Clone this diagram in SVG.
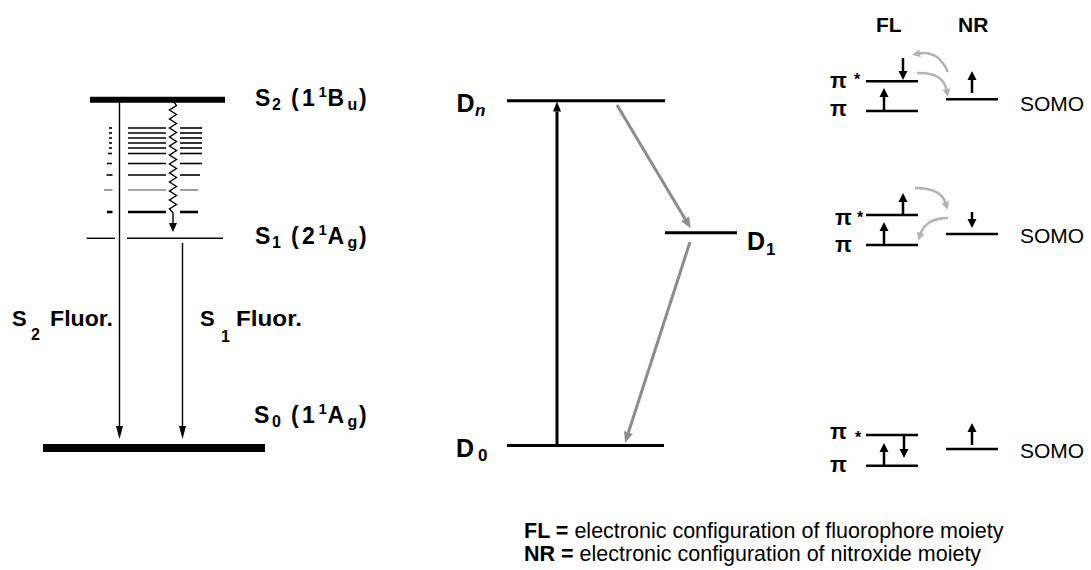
<svg xmlns="http://www.w3.org/2000/svg" width="1091" height="570" viewBox="0 0 1091 570">
<style>
text{font-family:"Liberation Sans",Arial,Helvetica,sans-serif;fill:#000}
.b{font-weight:bold}
.lab{font-size:23px;font-weight:bold}
.sm{font-size:16px}
.dl{font-size:25px;font-weight:bold}
.pi{font-size:22px;font-weight:bold}
.ast{font-size:16px;font-weight:bold}
.somo{font-size:21px}
.leg{font-size:21.5px}
.lvl{stroke:#000;stroke-width:2.5}
.dlv{stroke:#000;stroke-width:3}
.vib{stroke:#000;stroke-width:1.6}
.fl{stroke:#000;stroke-width:1.4;fill:none}
.abs{stroke:#000;stroke-width:3}
.ic{stroke:#8c8c8c;stroke-width:3}
.cv{stroke:#b3b3b3;stroke-width:2.5;fill:none}
.spin{stroke:#000;stroke-width:2.5}
</style>
<defs>
<marker id="hThin" markerUnits="userSpaceOnUse" markerWidth="14" markerHeight="8" refX="0" refY="0" orient="auto" overflow="visible"><path d="M0,-3.5 L13,0 L0,3.5 z" fill="#000"/></marker>
<marker id="hAbs" markerUnits="userSpaceOnUse" markerWidth="10" markerHeight="8" refX="0" refY="0" orient="auto" overflow="visible"><path d="M0,-4 L10,0 L0,4 z" fill="#000"/></marker>
<marker id="hGray" markerUnits="userSpaceOnUse" markerWidth="11" markerHeight="9" refX="0" refY="0" orient="auto" overflow="visible"><path d="M0,-4.5 L11,0 L0,4.5 z" fill="#8c8c8c"/></marker>
<marker id="hCurve" markerUnits="userSpaceOnUse" markerWidth="8" markerHeight="8" refX="0" refY="0" orient="auto" overflow="visible"><path d="M-1,-4 L7,0 L-1,4 z" fill="#b3b3b3"/></marker>
<marker id="hSpin" markerUnits="userSpaceOnUse" markerWidth="9" markerHeight="9" refX="0" refY="0" orient="auto" overflow="visible"><path d="M0,-4.5 L9,0 L0,4.5 z" fill="#000"/></marker>
<marker id="hWavy" markerUnits="userSpaceOnUse" markerWidth="9" markerHeight="8" refX="0" refY="0" orient="auto" overflow="visible"><path d="M0,-4 L9,0 L0,4 z" fill="#000"/></marker>
</defs>
<rect width="1091" height="570" fill="#fff"/>

<!-- Left: singlet states -->
<g id="S2">
<line x1="90" y1="99.7" x2="225" y2="99.7" stroke="#000" stroke-width="6"/>
<text class="lab" y="106"><tspan x="255">S</tspan><tspan class="sm" x="272" dy="4">2</tspan><tspan x="291" dy="-4">(</tspan><tspan x="302">1</tspan><tspan x="318.5" dy="-9" font-size="15">1</tspan><tspan x="327.5" dy="9">B</tspan><tspan class="sm" x="347.5" dy="4">u</tspan><tspan x="359" dy="-4">)</tspan></text>
</g>
<g id="S1">
<line x1="86.7" y1="238.3" x2="115" y2="238.3" stroke="#000" stroke-width="1.4"/>
<line x1="127" y1="238.3" x2="223" y2="238.3" stroke="#000" stroke-width="1.4"/>
<text class="lab" y="243.5"><tspan x="255">S</tspan><tspan class="sm" x="272" dy="4">1</tspan><tspan x="291" dy="-4">(</tspan><tspan x="302">2</tspan><tspan x="318.5" dy="-9" font-size="15">1</tspan><tspan x="327.5" dy="9">A</tspan><tspan class="sm" x="347.5" dy="4">g</tspan><tspan x="359" dy="-4">)</tspan></text>
</g>
<g id="S0">
<line x1="43" y1="448" x2="265" y2="448" stroke="#000" stroke-width="8"/>
<text class="lab" y="423"><tspan x="254">S</tspan><tspan class="sm" x="272" dy="4">0</tspan><tspan x="291" dy="-4">(</tspan><tspan x="302">1</tspan><tspan x="318.5" dy="-9" font-size="15">1</tspan><tspan x="327.5" dy="9">A</tspan><tspan class="sm" x="347.5" dy="4">g</tspan><tspan x="359" dy="-4">)</tspan></text>
</g>
<g id="vibrational-levels">
<g class="vib">
<line x1="109" y1="128" x2="112" y2="128"/><line x1="128" y1="128" x2="166" y2="128"/><line x1="180" y1="128" x2="202" y2="128"/>
<line x1="109" y1="133" x2="112" y2="133"/><line x1="128" y1="133" x2="166" y2="133"/><line x1="180" y1="133" x2="202" y2="133"/>
<line x1="109" y1="138" x2="112" y2="138"/><line x1="128" y1="138" x2="166" y2="138"/><line x1="180" y1="138" x2="202" y2="138"/>
<line x1="109" y1="143" x2="112" y2="143"/><line x1="128" y1="143" x2="166" y2="143"/><line x1="180" y1="143" x2="202" y2="143"/>
<line x1="109" y1="148" x2="112" y2="148"/><line x1="128" y1="148" x2="166" y2="148"/><line x1="180" y1="148" x2="202" y2="148"/>
<line x1="108" y1="153.5" x2="112" y2="153.5"/><line x1="128" y1="153.5" x2="166" y2="153.5"/><line x1="180" y1="153.5" x2="202" y2="153.5"/>
<line x1="107" y1="163.5" x2="112" y2="163.5"/><line x1="128" y1="163.5" x2="166" y2="163.5"/><line x1="180" y1="163.5" x2="202" y2="163.5"/>
<line x1="106.5" y1="175" x2="112.5" y2="175"/><line x1="128" y1="175" x2="166" y2="175"/><line x1="180" y1="175" x2="200" y2="175"/>
</g>
<g stroke="#888" stroke-width="1.6">
<line x1="104" y1="190" x2="112.5" y2="190"/><line x1="128" y1="190" x2="166" y2="190"/><line x1="180" y1="190" x2="198" y2="190"/>
</g>
<g stroke="#000" stroke-width="2.6">
<line x1="107" y1="212" x2="112.5" y2="212"/><line x1="128" y1="212" x2="166" y2="212"/><line x1="180" y1="212" x2="198" y2="212"/>
</g>
</g>
<g id="S2-fluor-label">
<text class="b" font-size="22" y="326"><tspan x="12">S</tspan><tspan class="sm" x="31" y="340">2</tspan><tspan x="50" y="326" textLength="63" lengthAdjust="spacingAndGlyphs">Fluor.</tspan></text>
</g>
<g id="S1-fluor-label">
<text class="b" font-size="22" y="326"><tspan x="200">S</tspan><tspan class="sm" x="221" y="342">1</tspan><tspan x="236" y="326" textLength="66" lengthAdjust="spacingAndGlyphs">Fluor.</tspan></text>
</g>

<!-- Middle: doublet states -->
<g id="Dn">
<line class="dlv" x1="507" y1="100.7" x2="665" y2="100.7"/>
<text class="dl" y="112"><tspan x="456.5">D</tspan><tspan x="475" dy="4" font-size="17" font-style="italic">n</tspan></text>
</g>
<g id="D1">
<line class="dlv" x1="665" y1="232.7" x2="737" y2="232.7"/>
<text class="dl" y="250"><tspan x="747">D</tspan><tspan x="766" dy="5" font-size="17">1</tspan></text>
</g>
<g id="D0">
<line class="dlv" x1="507" y1="445.5" x2="664" y2="445.5"/>
<text class="dl" y="456.5"><tspan x="456">D</tspan><tspan x="478" dy="4" font-size="17">0</tspan></text>
</g>

<!-- Right: electronic configurations -->
<g id="FL-header"><text class="b" font-size="21" x="876" y="32">FL</text></g>
<g id="NR-header"><text class="b" font-size="21" x="958" y="32">NR</text></g>

<g id="config-Dn">
<line class="lvl" x1="866" y1="81.3" x2="918" y2="81.3"/>
<line class="lvl" x1="866" y1="111" x2="918" y2="111"/>
<line class="lvl" x1="946" y1="99.3" x2="998" y2="99.3"/>
<text class="pi" x="830" y="88">π</text><text class="ast" x="854" y="85">*</text>
<text class="pi" x="830" y="116">π</text>
<text class="somo" x="1020" y="111">SOMO</text>
<line class="spin" x1="903" y1="58" x2="903" y2="71" marker-end="url(#hSpin)"/>
<line class="spin" x1="884" y1="110" x2="884" y2="97" marker-end="url(#hSpin)"/>
<line class="spin" x1="972" y1="93" x2="972" y2="80" marker-end="url(#hSpin)"/>
</g>
<g id="config-D1">
<line class="lvl" x1="866" y1="215" x2="918" y2="215"/>
<line class="lvl" x1="866" y1="245" x2="918" y2="245"/>
<line class="lvl" x1="946" y1="234" x2="998" y2="234"/>
<text class="pi" x="835" y="225">π</text><text class="ast" x="857" y="223">*</text>
<text class="pi" x="835" y="252">π</text>
<text class="somo" x="1020" y="243">SOMO</text>
<line class="spin" x1="903" y1="214" x2="903" y2="202" marker-end="url(#hSpin)"/>
<line class="spin" x1="884" y1="244" x2="884" y2="231" marker-end="url(#hSpin)"/>
<line class="spin" x1="972" y1="212" x2="972" y2="219" marker-end="url(#hSpin)"/>
</g>
<g id="config-D0">
<line class="lvl" x1="866" y1="435" x2="918" y2="435"/>
<line class="lvl" x1="866" y1="465.7" x2="918" y2="465.7"/>
<line class="lvl" x1="946" y1="449" x2="998" y2="449"/>
<text class="pi" x="830" y="439">π</text><text class="ast" x="855" y="443">*</text>
<text class="pi" x="830" y="472">π</text>
<text class="somo" x="1020" y="458">SOMO</text>
<line class="spin" x1="884" y1="465" x2="884" y2="452" marker-end="url(#hSpin)"/>
<line class="spin" x1="904" y1="435" x2="904" y2="449" marker-end="url(#hSpin)"/>
<line class="spin" x1="972" y1="445" x2="972" y2="432" marker-end="url(#hSpin)"/>
</g>

<g id="legend">
<text class="leg" x="524" y="538"><tspan class="b">FL =</tspan> electronic configuration of fluorophore moiety</text>
<text class="leg" x="524" y="561"><tspan class="b">NR =</tspan> electronic configuration of nitroxide moiety</text>
</g>

<g id="connectors">
<line class="fl" x1="119.5" y1="102" x2="119.5" y2="426" marker-end="url(#hThin)"/>
<line class="fl" x1="182.5" y1="243" x2="182.5" y2="426" marker-end="url(#hThin)"/>
<path class="fl" stroke-width="1.3" d="M173,101 L176.5,105.5 L169.5,110 L176.5,114.5 L169.5,119 L176.5,123.5 L169.5,128 L176.5,132.5 L169.5,137 L176.5,141.5 L169.5,146 L176.5,150.5 L169.5,155 L176.5,159.5 L169.5,164 L176.5,168.5 L169.5,173 L176.5,177.5 L169.5,182 L176.5,186.5 L169.5,191 L176.5,195.5 L169.5,200 L176.5,204.5 L169.5,209 L173,213 L173,223" marker-end="url(#hWavy)"/>
<line class="abs" x1="557" y1="444" x2="557" y2="111.5" marker-end="url(#hAbs)"/>
<line class="ic" x1="617" y1="105" x2="685.1" y2="218.9" marker-end="url(#hGray)"/>
<line class="ic" x1="690" y1="242" x2="628.4" y2="432.5" marker-end="url(#hGray)"/>
<path class="cv" d="M948,72 Q938,50 919,53.5" marker-end="url(#hCurve)"/>
<path class="cv" d="M917,73 Q943,72 946.5,90" marker-end="url(#hCurve)"/>
<path class="cv" d="M915,188 Q941,188 945.5,203" marker-end="url(#hCurve)"/>
<path class="cv" d="M948,218 Q926,218 920.5,234" marker-end="url(#hCurve)"/>
</g>
</svg>
